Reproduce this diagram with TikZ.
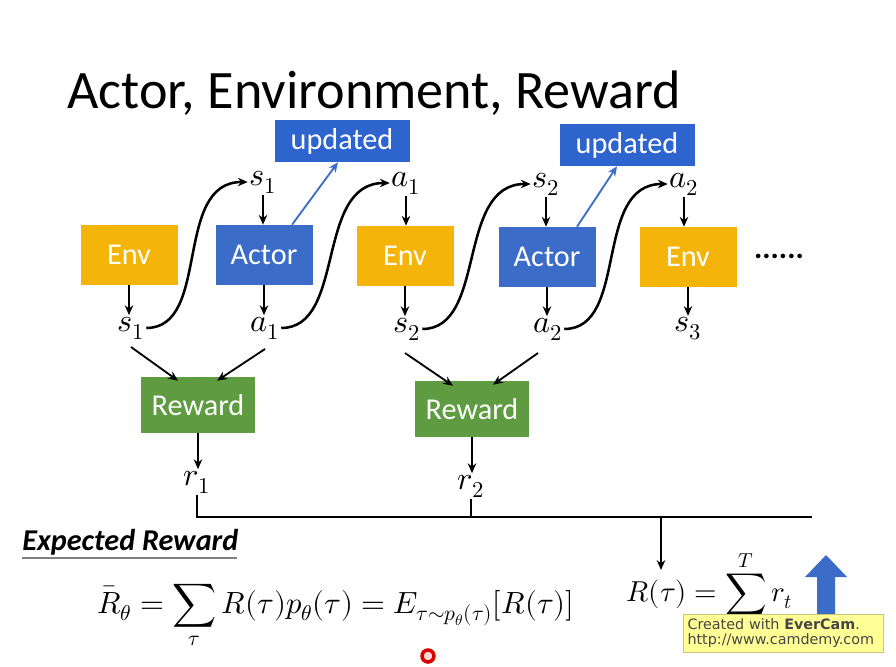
\documentclass[tikz,border=0pt]{standalone}
\usepackage{fontspec}
\usepackage{unicode-math}
\setmainfont{Carlito}
\setmathfont{Latin Modern Math}
\newfontfamily\wmfont{DejaVu Sans}
\usetikzlibrary{arrows.meta}
\definecolor{envc}{RGB}{245,180,10}
\definecolor{actc}{RGB}{58,108,200}
\definecolor{updc}{RGB}{45,100,205}
\definecolor{rewc}{RGB}{95,155,65}
\definecolor{wmc}{RGB}{255,255,150}
\definecolor{wmb}{RGB}{200,200,120}
\definecolor{wmt}{RGB}{70,70,70}
\begin{document}
\begin{tikzpicture}[x=0.025cm,y=-0.025cm,
  box/.style={draw=none,text=white,minimum width=97*0.025cm,minimum height=60*0.025cm,inner sep=0pt,font=\fontsize{21.5}{24}\selectfont},
  envbox/.style={box,fill=envc},
  actbox/.style={box,fill=actc},
  updbox/.style={box,fill=updc,minimum width=135*0.025cm,minimum height=42*0.025cm},
  rewbox/.style={box,fill=rewc,minimum width=114*0.025cm,minimum height=56*0.025cm},
  lab/.style={inner sep=1pt,font=\fontsize{23}{26}\selectfont},
  arr/.style={-{Stealth[length=7pt,width=6pt]},line width=1.3pt,black},
  carr/.style={-{Stealth[length=7pt,width=6pt]},line width=1.8pt,black},
  barr/.style={-{Stealth[length=7pt,width=6pt]},line width=1.3pt,actc},
  ln/.style={line width=1.6pt,black}]
\useasboundingbox (0,0) rectangle (896,666);
\fill[white] (0,0) rectangle (896,666);
% title
\node[anchor=base west,inner sep=0pt,font=\fontsize{38.5}{42}\selectfont] (title) at (67,108) {Actor, Environment, Reward};
% boxes
\node[envbox] (env1) at (129,255) {Env};
\node[actbox] (act1) at (264,255) {Actor};
\node[envbox] (env2) at (405,256) {Env};
\node[actbox] (act2) at (547,257) {Actor};
\node[envbox] (env3) at (688,257) {Env};
\node[updbox] (upd1) at (342,141) {updated};
\node[updbox] (upd2) at (627,145) {updated};
\node[rewbox] (rew1) at (198,405) {Reward};
\node[rewbox] (rew2) at (472,409) {Reward};
\node[font=\fontsize{22}{24}\selectfont\bfseries] (dots) at (779,256) {......};
% labels
\node[lab] (s1t) at (263,182) {$s_1$};
\node[lab] (a1t) at (406,183) {$a_1$};
\node[lab] (s2t) at (546,184) {$s_2$};
\node[lab] (a2t) at (684,184) {$a_2$};
\node[lab] (s1b) at (131,328) {$s_1$};
\node[lab] (a1b) at (265,328) {$a_1$};
\node[lab] (s2b) at (407,329) {$s_2$};
\node[lab] (a2b) at (548,329) {$a_2$};
\node[lab] (s3b) at (688,329) {$s_3$};
\node[lab] (r1) at (197,482) {$r_1$};
\node[lab] (r2) at (471,486) {$r_2$};
% vertical arrows
\draw[arr] (s1t.south) -- (s1t.south |- act1.north);
\draw[arr] (a1t.south) -- (a1t.south |- env2.north);
\draw[arr] (s2t.south) -- (s2t.south |- act2.north);
\draw[arr] (a2t.south) -- (a2t.south |- env3.north);
\draw[arr] (env1.south) -- (env1.south |- s1b.north);
\draw[arr] (act1.south) -- (act1.south |- a1b.north);
\draw[arr] (env2.south) -- (env2.south |- s2b.north);
\draw[arr] (act2.south) -- (act2.south |- a2b.north);
\draw[arr] (env3.south) -- (env3.south |- s3b.north);
\draw[arr] (rew1.south) -- (rew1.south |- r1.north);
\draw[arr] (rew2.south) -- (rew2.south |- r2.north);
% curved arrows
\draw[carr] (s1b.east) .. controls +(65,0) and +(-75,0) .. (s1t.west);
\draw[carr] (a1b.east) .. controls +(65,0) and +(-75,0) .. (a1t.west);
\draw[carr] (s2b.east) .. controls +(65,0) and +(-75,0) .. (s2t.west);
\draw[carr] (a2b.east) .. controls +(65,0) and +(-75,0) .. (a2t.west);
% to updated
\draw[barr] ([xshift=0.7cm]act1.north) -- ([xshift=-0.1cm]upd1.south);
\draw[barr] ([xshift=0.75cm]act2.north) -- ([xshift=-0.25cm]upd2.south);
% to reward
\draw[arr] ([yshift=-19*0.025cm]s1b.center) -- ([shift={(-20,4)}]rew1.north);
\draw[arr] ([yshift=-21*0.025cm]a1b.center) -- ([shift={(19,4)}]rew1.north);
\draw[arr] ([shift={(-2,24)}]s2b.center) -- ([shift={(-19,5)}]rew2.north);
\draw[arr] ([shift={(-10,24)}]a2b.center) -- ([shift={(21,4)}]rew2.north);
% sum line
\coordinate (L1) at (197,517);
\coordinate (L3) at (812,517);
\coordinate (L4) at (661,517);
\draw[ln] (r1.south) -- (r1.south |- L1) -- (L3);
\draw[ln] (r2.south) -- (r2.south |- L1);
% expected reward
\node[anchor=base west,inner sep=0pt,font=\fontsize{21.5}{24}\selectfont\bfseries\itshape] (er) at (22,550) {Expected Reward};
\draw[gray,line width=1.2pt] (22,558) -- (237,558);
\node[anchor=base west,inner sep=0pt,font=\fontsize{21.8}{26}\selectfont] (f1) at (97,613)
 {$\bar{R}_\theta=\displaystyle\sum_{\tau}R(\tau)p_\theta(\tau)=E_{\tau\sim p_\theta(\tau)}[R(\tau)]$};
\node[anchor=base west,inner sep=0pt,font=\fontsize{20.5}{24}\selectfont] (f2) at (626,601)
 {$R(\tau)=\displaystyle\sum_{t=1}^{T}r_t$};
\draw[arr,line width=1.2pt] (L4) -- (661,570);
% big up arrow
\fill[actc] (817,622) -- (817,577) -- (805,577) -- (826,555) -- (847,577) -- (835,577) -- (835,622) -- cycle;
% watermark
\node[draw=wmb,fill=wmc,anchor=north west,text width=192*0.025cm,minimum height=34*0.025cm,inner sep=3pt,align=left,font=\wmfont\fontsize{10.2}{11}\selectfont,text=wmt] (wm) at (683,614)
 {Created with \textbf{EverCam}.\\ http://www.camdemy.com};
% cursor
\draw[red!85!black,line width=2.5pt,fill=red!15] (428,656) circle (6);
\end{tikzpicture}
\end{document}
